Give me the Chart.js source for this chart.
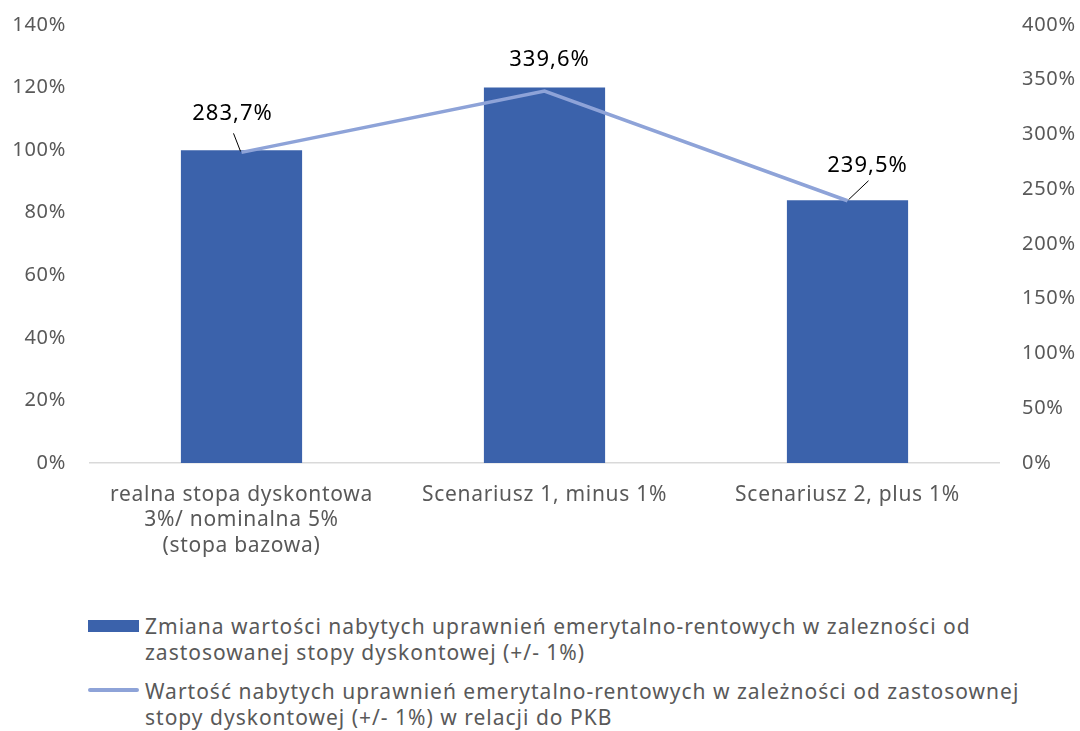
<!DOCTYPE html>
<html>
<head>
<meta charset="utf-8">
<script src="https://cdn.jsdelivr.net/npm/chart.js@4"></script>
<style>
  body { margin: 0; background: #fff; font-family: "Noto Sans", sans-serif; }
  #wrap { position: relative; width: 1080px; height: 731px; }
  #chart { position: absolute; left: 0; top: 0; }
  .leg { position: absolute; left: 145px; width: 935px; color: #595959; font-size: 21px; letter-spacing: 1px; line-height: 26px; white-space: nowrap; }
  .sw { position: absolute; left: 88px; width: 51px; }
</style>
</head>
<body>
<div id="wrap">
  <canvas id="chart" width="1080" height="600"></canvas>
  <div class="sw" style="top:620px;height:12px;background:#3b62ab"></div>
  <div class="leg" style="top:613px">Zmiana wartości nabytych uprawnień emerytalno-rentowych w zalezności od<br>zastosowanej stopy dyskontowej (+/- 1%)</div>
  <div class="sw" style="top:688px;height:4px;border-radius:2px;background:#8ea3d8"></div>
  <div class="leg" style="top:678px">Wartość nabytych uprawnień emerytalno-rentowych w zależności od zastosownej<br>stopy dyskontowej (+/- 1%) w relacji do PKB</div>
</div>
<script>
const categories = [
  ['realna stopa dyskontowa', '3%/ nominalna 5%', '(stopa bazowa)'],
  'Scenariusz 1, minus 1%',
  'Scenariusz 2, plus 1%'
];
const changeValues = [100, 120, 84];        // left axis, %
const gdpValues = [283.7, 339.6, 239.5];     // right axis, %
const gdpLabels = ['283,7%', '339,6%', '239,5%'];

// label offsets relative to the point, with optional leader line
const labelPos = [
  { dx: -9, dy: -39, lead: [-8, -19, -1, -1] },
  { dx: 5, dy: -31, lead: null },
  { dx: 20, dy: -35, lead: [21, -20, 1, -1] }
];

const spacingPlugin = {
  id: 'spacing',
  beforeDraw(chart) { chart.ctx.letterSpacing = '0.7px'; }
};

const labelPlugin = {
  id: 'pointLabels',
  afterDatasetsDraw(chart) {
    const ctx = chart.ctx;
    const meta = chart.getDatasetMeta(1);
    ctx.save();
    ctx.font = '22px "Noto Sans", sans-serif';
    ctx.letterSpacing = '1px';
    ctx.fillStyle = '#000';
    ctx.textAlign = 'center';
    ctx.textBaseline = 'middle';
    meta.data.forEach((pt, i) => {
      const p = labelPos[i];
      ctx.fillText(gdpLabels[i], pt.x + p.dx, pt.y + p.dy);
      if (p.lead) {
        ctx.strokeStyle = '#000';
        ctx.lineWidth = 1;
        ctx.beginPath();
        ctx.moveTo(pt.x + p.lead[0], pt.y + p.lead[1]);
        ctx.lineTo(pt.x + p.lead[2], pt.y + p.lead[3]);
        ctx.stroke();
      }
    });
    ctx.restore();
  }
};

const tickFont = { family: '"Noto Sans", sans-serif', size: 20 };

function fixY(width) {
  return s => { s.width = width; s.paddingTop = 0; s.paddingBottom = 0; };
}

new Chart(document.getElementById('chart'), {
  type: 'bar',
  data: {
    labels: categories,
    datasets: [{
      type: 'bar',
      label: 'Zmiana',
      data: changeValues,
      backgroundColor: '#3b62ab',
      barPercentage: 0.4,
      categoryPercentage: 1,
      yAxisID: 'y',
      order: 2
    }, {
      type: 'line',
      label: 'Wartość',
      data: gdpValues,
      borderColor: '#8ea3d8',
      borderWidth: 3.5,
      pointRadius: 0,
      tension: 0,
      yAxisID: 'y1',
      order: 1
    }]
  },
  options: {
    responsive: false,
    animation: false,
    layout: { padding: { top: 25, right: 0, left: 0, bottom: 0 } },
    plugins: { legend: { display: false }, tooltip: { enabled: false } },
    scales: {
      x: {
        grid: { display: false, drawTicks: false },
        border: { color: '#d9d9d9', width: 1.5 },
        ticks: { color: '#595959', font: { ...tickFont, size: 21, lineHeight: 1.22 }, padding: 19, maxRotation: 0 },
        afterFit: s => { s.height = 137; s.paddingLeft = 0; s.paddingRight = 0; }
      },
      y: {
        position: 'left',
        min: 0, max: 140,
        grid: { display: false, drawTicks: false },
        border: { display: false },
        ticks: { stepSize: 20, color: '#595959', font: tickFont, padding: 24, callback: v => v + '%' },
        afterFit: fixY(90)
      },
      y1: {
        position: 'right',
        min: 0, max: 400,
        grid: { display: false, drawTicks: false },
        border: { display: false },
        ticks: { stepSize: 50, color: '#595959', font: tickFont, padding: 23, callback: v => v + '%' },
        afterFit: fixY(81)
      }
    }
  },
  plugins: [spacingPlugin, labelPlugin]
});
</script>
</body>
</html>
